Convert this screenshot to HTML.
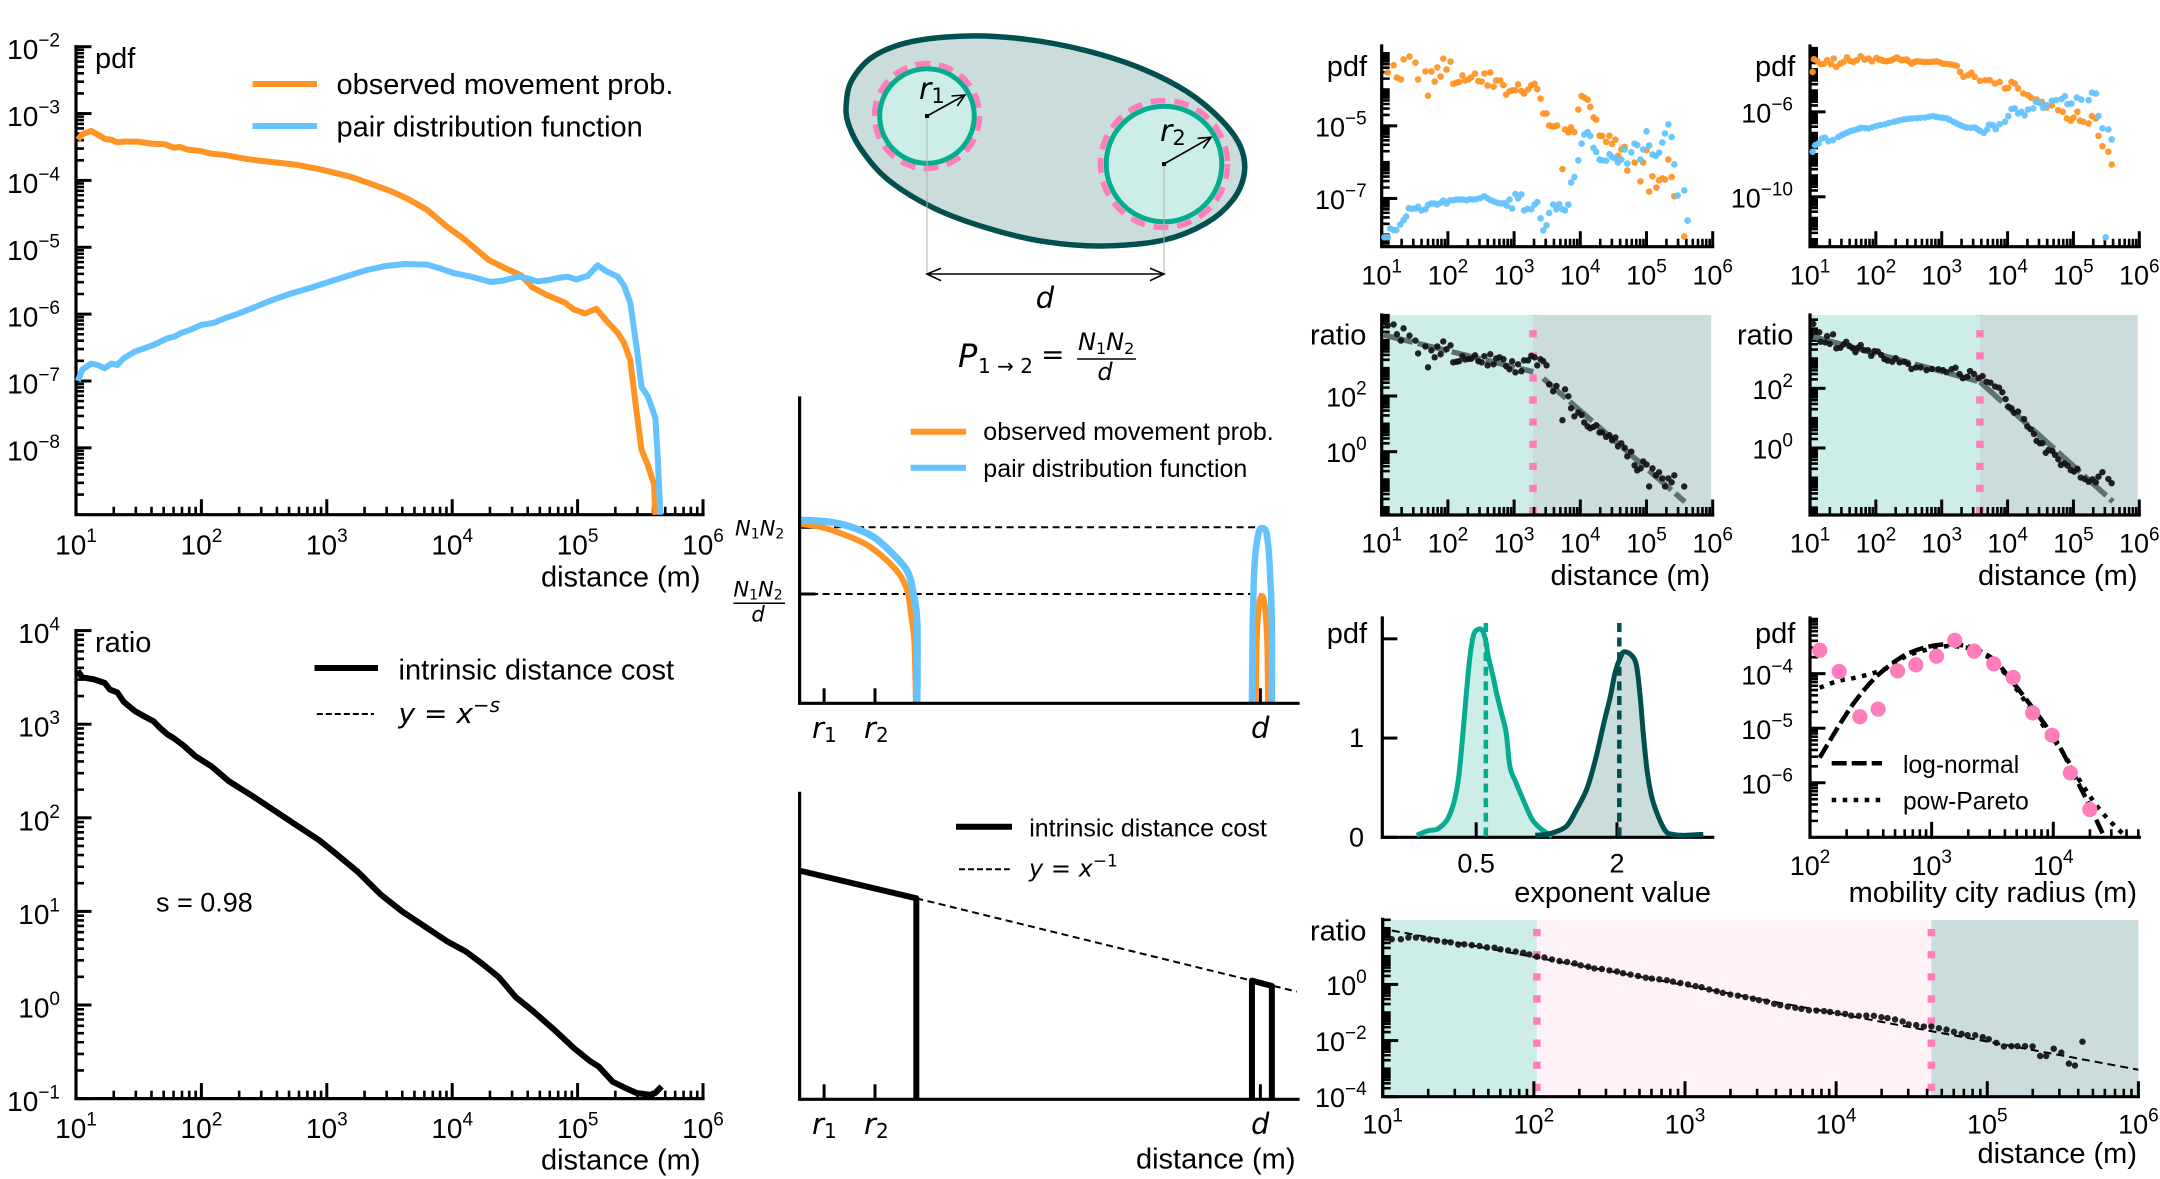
<!DOCTYPE html>
<html lang="en">
<head>
<meta charset="utf-8">
<title>Distance cost multi-panel figure</title>
<style>
html,body{margin:0;padding:0;background:#fff}
svg{display:block}
text{font-family:"Liberation Sans",sans-serif;fill:#000}
.math{font-family:"DejaVu Sans",sans-serif;font-style:italic}
.up{font-style:normal}
</style>
</head>
<body>
<svg id="figure" xmlns="http://www.w3.org/2000/svg" width="2160" height="1179" viewBox="0 0 2160 1179">
<rect x="0" y="0" width="2160" height="1179" fill="#fff"/>

<g id="panel-a"></g>
<g>
  <text x="95" y="68" font-size="29">pdf</text>
  <text x="700.5" y="586.5" font-size="29" text-anchor="end">distance (m)</text>
  <line x1="252.5" x2="317" y1="84" y2="84" stroke="#ff9425" stroke-width="6"/>
  <text x="336.5" y="94" font-size="29">observed movement prob.</text>
  <line x1="252.5" x2="317" y1="126" y2="126" stroke="#64c3ff" stroke-width="6"/>
  <text x="336.5" y="136.5" font-size="29">pair distribution function</text>
</g>

<g id="panel-d"></g>
<g>
  <text x="95" y="652" font-size="29">ratio</text>
  <text x="700.5" y="1169.5" font-size="29" text-anchor="end">distance (m)</text>
  <line x1="314.5" x2="378" y1="668" y2="668" stroke="#000" stroke-width="6"/>
  <text x="398.5" y="679.5" font-size="29">intrinsic distance cost</text>
  <line x1="316.8" x2="374" y1="714" y2="714" stroke="#000" stroke-width="2" stroke-dasharray="6 3"/>
  <text class="math" x="398.5" y="723" font-size="28">y<tspan class="up"> = </tspan>x<tspan dy="-11" font-size="20">−s</tspan></text>
  <text x="156" y="911.5" font-size="27">s = 0.98</text>
</g>

<g>
  <path id="city-blob" fill="#cbdcdc" stroke="#024f4f" stroke-width="5.5"/>
  <circle cx="927" cy="116" r="52.5" fill="none" stroke="#ff7dbb" stroke-width="5.5" stroke-dasharray="15 8.56"/>
  <circle cx="927" cy="116" r="47.3" fill="#cdeee8" stroke="#05ac90" stroke-width="5"/>
  <circle cx="1164" cy="164" r="63.5" fill="none" stroke="#ff7dbb" stroke-width="5.5" stroke-dasharray="15 8.8"/>
  <circle cx="1164" cy="164" r="57.8" fill="#cdeee8" stroke="#05ac90" stroke-width="5"/>
  <line x1="927" x2="927" y1="116" y2="274" stroke="#a9b4b4" stroke-width="1"/>
  <line x1="1164" x2="1164" y1="164" y2="274" stroke="#a9b4b4" stroke-width="1"/>
  <rect x="925" y="114" width="4" height="4" fill="#000"/>
  <rect x="1162" y="162" width="4" height="4" fill="#000"/>
  <path d="M927 116L965 95M951.5 96L965 95L957.3 106" fill="none" stroke="#000" stroke-width="1.6"/>
  <path d="M1164 164L1211 137.3M1197.6 138.3L1211 137.3L1203.3 148.3" fill="none" stroke="#000" stroke-width="1.6"/>
  <path d="M927 274L1164 274M941 268.3L927 274L941 280.7M1150 268.3L1164 274L1150 280.7" fill="none" stroke="#000" stroke-width="1.6"/>
  <text class="math" x="919" y="99" font-size="30">r<tspan class="up" dy="4" font-size="21">1</tspan></text>
  <text class="math" x="1160" y="141" font-size="30">r<tspan class="up" dy="4" font-size="21">2</tspan></text>
  <text class="math" x="1045" y="308" font-size="29" text-anchor="middle">d</text>
</g>

<g>
  <text class="math" x="958" y="367" font-size="32">P</text>
  <text class="math up" x="978" y="373" font-size="20">1 → 2</text>
  <text class="math up" x="1041" y="364" font-size="28">=</text>
  <text class="math" x="1078" y="350" font-size="24">N<tspan class="up" dy="4" font-size="16">1</tspan><tspan dy="-4">N</tspan><tspan class="up" dy="4" font-size="16">2</tspan></text>
  <line x1="1077" x2="1136" y1="359" y2="359" stroke="#000" stroke-width="1.6"/>
  <text class="math" x="1105" y="380" font-size="24" text-anchor="middle">d</text>
</g>

<g id="panel-j"></g>
<g>
  <line x1="910.6" x2="966" y1="431.7" y2="431.7" stroke="#ff9425" stroke-width="6"/>
  <text x="983.3" y="440" font-size="25">observed movement prob.</text>
  <line x1="910.6" x2="966" y1="467.7" y2="467.7" stroke="#64c3ff" stroke-width="6"/>
  <text x="983.3" y="477" font-size="25">pair distribution function</text>
  <text class="math" x="735" y="535.7" font-size="21">N<tspan class="up" dy="3" font-size="14">1</tspan><tspan dy="-3">N</tspan><tspan class="up" dy="3" font-size="14">2</tspan></text>
  <text class="math" x="733.4" y="596.7" font-size="21">N<tspan class="up" dy="3" font-size="14">1</tspan><tspan dy="-3">N</tspan><tspan class="up" dy="3" font-size="14">2</tspan></text>
  <line x1="733.4" x2="785" y1="603.3" y2="603.3" stroke="#000" stroke-width="1.5"/>
  <text class="math" x="758" y="621.7" font-size="21" text-anchor="middle">d</text>
  <text class="math" x="812" y="738" font-size="29">r<tspan class="up" dy="4" font-size="20">1</tspan></text>
  <text class="math" x="864" y="738" font-size="29">r<tspan class="up" dy="4" font-size="20">2</tspan></text>
  <text class="math" x="1251" y="738" font-size="29">d</text>
</g>

<g id="panel-k"></g>
<g>
  <line x1="956" x2="1012" y1="826.7" y2="826.7" stroke="#000" stroke-width="6"/>
  <text x="1029.2" y="836.7" font-size="25">intrinsic distance cost</text>
  <line x1="959" x2="1009.7" y1="869.3" y2="869.3" stroke="#000" stroke-width="2" stroke-dasharray="6 3"/>
  <text class="math" x="1029" y="876.7" font-size="24">y<tspan class="up"> = </tspan>x<tspan class="up" dy="-10" font-size="17">−1</tspan></text>
  <text class="math" x="812" y="1134" font-size="29">r<tspan class="up" dy="4" font-size="20">1</tspan></text>
  <text class="math" x="864" y="1134" font-size="29">r<tspan class="up" dy="4" font-size="20">2</tspan></text>
  <text class="math" x="1251" y="1134" font-size="29">d</text>
  <text x="1295.5" y="1168.5" font-size="29" text-anchor="end">distance (m)</text>
</g>

<g id="panel-b"></g>
<text x="1326.7" y="76" font-size="29">pdf</text>
<g id="panel-c"></g>
<text x="1755" y="76" font-size="29">pdf</text>

<g id="panel-e"></g>
<text x="1310" y="344.5" font-size="29">ratio</text>
<text x="1710" y="585" font-size="29" text-anchor="end">distance (m)</text>
<g id="panel-f"></g>
<text x="1737" y="344.5" font-size="29">ratio</text>
<text x="2137.5" y="585" font-size="29" text-anchor="end">distance (m)</text>

<g id="panel-g"></g>
<text x="1326.7" y="643" font-size="29">pdf</text>
<text x="1711" y="902" font-size="29" text-anchor="end">exponent value</text>

<g id="panel-h"></g>
<g>
  <text x="1755" y="643" font-size="29">pdf</text>
  <text x="2137" y="902" font-size="29" text-anchor="end">mobility city radius (m)</text>
  <line x1="1831.7" x2="1882" y1="763.3" y2="763.3" stroke="#000" stroke-width="4.5" stroke-dasharray="15 5"/>
  <text x="1903" y="773" font-size="24.6">log-normal</text>
  <line x1="1831.7" x2="1882" y1="800" y2="800" stroke="#000" stroke-width="4.5" stroke-dasharray="4.5 6.5"/>
  <text x="1903" y="809.5" font-size="24.6">pow-Pareto</text>
</g>

<g id="panel-i"></g>
<text x="1310" y="940.5" font-size="29">ratio</text>
<text x="2137" y="1163" font-size="29" text-anchor="end">distance (m)</text>
</svg>

<script>
// All distance / pdf / ratio values below are log10 of the plotted value.
const xDecadeLabels = [1, 2, 3, 4, 5, 6];

const panelAYTicks = [-8, -7, -6, -5, -4, -3, -2];
const panelALogDistanceObserved = [1.015,1.05,1.12,1.17,1.23,1.28,1.33,1.38,1.49,1.60,1.71,1.78,1.83,1.89,1.99,2.08,2.19,2.33,2.44,2.59,2.77,2.96,3.18,3.32,3.51,3.65,3.80,3.95,4.11,4.29,4.42,4.55,4.64,4.75,4.90,4.97,5.06,5.15,5.23,5.32,5.37,5.42,5.47,5.51,5.56,5.61,5.62];
const panelALogPdfObserved = [-3.39,-3.31,-3.26,-3.31,-3.38,-3.39,-3.43,-3.42,-3.42,-3.45,-3.46,-3.51,-3.50,-3.54,-3.56,-3.60,-3.62,-3.67,-3.70,-3.73,-3.77,-3.84,-3.94,-4.03,-4.16,-4.28,-4.44,-4.68,-4.90,-5.19,-5.31,-5.42,-5.60,-5.71,-5.83,-5.93,-5.99,-5.92,-6.10,-6.28,-6.43,-6.69,-7.46,-8.03,-8.26,-8.55,-9.0];
const panelALogDistancePair = [1.015,1.05,1.12,1.17,1.23,1.28,1.33,1.38,1.47,1.62,1.73,1.78,1.84,1.89,2.0,2.10,2.19,2.30,2.42,2.55,2.70,2.88,3.03,3.18,3.32,3.47,3.62,3.80,3.91,4.02,4.13,4.31,4.40,4.53,4.59,4.68,4.77,4.84,4.92,4.99,5.08,5.16,5.23,5.32,5.37,5.42,5.47,5.51,5.56,5.62,5.64,5.66];
const panelALogPdfPair = [-7.0,-6.83,-6.74,-6.76,-6.81,-6.74,-6.76,-6.66,-6.56,-6.46,-6.36,-6.34,-6.28,-6.25,-6.16,-6.13,-6.06,-5.99,-5.90,-5.80,-5.70,-5.60,-5.51,-5.42,-5.34,-5.28,-5.25,-5.26,-5.32,-5.39,-5.43,-5.52,-5.50,-5.44,-5.46,-5.51,-5.49,-5.46,-5.44,-5.48,-5.43,-5.27,-5.36,-5.44,-5.57,-5.83,-6.49,-7.09,-7.23,-7.55,-8.18,-9.0];

const panelDYTicks = [-1, 0, 1, 2, 3, 4];
const panelDLogDistance = [1.015,1.05,1.14,1.23,1.27,1.33,1.38,1.47,1.55,1.62,1.67,1.73,1.78,1.86,1.95,2.08,2.22,2.41,2.59,2.77,2.94,3.07,3.25,3.43,3.60,3.78,3.96,4.11,4.24,4.37,4.51,4.64,4.81,4.97,5.10,5.17,5.28,5.37,5.47,5.58,5.62,5.67];
const panelDLogRatio = [3.57,3.50,3.48,3.44,3.37,3.34,3.24,3.14,3.08,3.03,2.96,2.89,2.85,2.77,2.66,2.55,2.39,2.23,2.07,1.91,1.76,1.62,1.42,1.18,1.0,0.84,0.68,0.57,0.44,0.30,0.08,-0.06,-0.26,-0.46,-0.60,-0.66,-0.82,-0.88,-0.94,-0.96,-0.94,-0.87];

const panelBYTicks = [-7, -5];
const panelBLogDistanceObserved = [1.09,1.18,1.23,1.29,1.33,1.42,1.51,1.55,1.66,1.70,1.75,1.80,1.84,1.89,1.93,1.98,2.04,2.08,2.13,2.17,2.22,2.26,2.31,2.35,2.41,2.46,2.51,2.55,2.60,2.64,2.69,2.73,2.79,2.84,2.88,2.93,2.97,3.02,3.06,3.11,3.15,3.21,3.26,3.31,3.35,3.40,3.44,3.49,3.53,3.58,3.62,3.65,3.73,3.77,3.82,3.86,3.91,3.97,4.02,4.06,4.11,4.15,4.20,4.24,4.29,4.33,4.39,4.44,4.48,4.53,4.57,4.62,4.67,4.71,4.82,4.91,4.95,5.0,5.04,5.09,5.15,5.19,5.24,5.28,5.33,5.38,5.42,5.57];
const panelBLogPdfObserved = [-3.53,-3.33,-3.67,-3.72,-3.17,-3.09,-3.26,-3.72,-3.50,-4.17,-3.50,-3.78,-3.39,-3.64,-3.15,-3.45,-3.23,-3.84,-3.81,-3.79,-3.61,-3.75,-3.72,-3.67,-3.56,-3.77,-3.78,-3.56,-3.89,-3.53,-3.92,-3.75,-3.75,-3.88,-4.14,-4.05,-4.02,-4.02,-3.86,-4.04,-4.11,-4.0,-3.88,-3.84,-3.99,-4.25,-4.66,-4.66,-4.99,-5.02,-5.01,-4.99,-6.19,-5.10,-5.18,-5.04,-5.17,-4.55,-4.18,-4.22,-4.28,-4.48,-4.77,-4.83,-5.27,-5.28,-5.44,-5.27,-5.50,-5.38,-5.83,-5.65,-5.58,-6.23,-6.01,-6.53,-6.01,-5.67,-6.81,-6.39,-6.70,-6.50,-6.45,-6.48,-5.93,-6.41,-6.94,-8.05];
const panelBLogDistancePair = [1.04,1.09,1.13,1.18,1.22,1.28,1.33,1.37,1.41,1.46,1.51,1.55,1.60,1.66,1.70,1.75,1.80,1.84,1.89,1.93,1.98,2.03,2.08,2.13,2.18,2.23,2.28,2.33,2.38,2.43,2.49,2.55,2.60,2.65,2.70,2.75,2.80,2.85,2.89,2.93,2.97,3.02,3.06,3.11,3.15,3.20,3.26,3.31,3.35,3.40,3.44,3.49,3.53,3.59,3.64,3.68,3.73,3.77,3.82,3.86,3.91,3.97,4.02,4.06,4.11,4.15,4.20,4.24,4.29,4.33,4.39,4.44,4.48,4.53,4.57,4.62,4.67,4.71,4.77,4.82,4.86,4.91,4.95,5.0,5.04,5.09,5.14,5.19,5.24,5.28,5.33,5.38,5.42,5.47,5.57,5.62];
const panelBLogPdfPair = [-8.07,-8.07,-7.83,-7.87,-7.87,-7.72,-7.60,-7.50,-7.27,-7.29,-7.28,-7.23,-7.33,-7.30,-7.18,-7.14,-7.14,-7.17,-7.12,-7.06,-7.14,-7.05,-7.05,-7.03,-7.03,-7.03,-7.05,-7.02,-7.03,-7.02,-6.99,-6.94,-7.0,-7.05,-7.09,-7.12,-7.14,-7.13,-7.20,-7.03,-7.28,-6.88,-7.0,-6.89,-7.33,-7.29,-7.30,-7.17,-7.10,-7.55,-7.88,-7.74,-7.40,-7.17,-7.30,-7.16,-7.30,-7.33,-7.17,-6.56,-6.41,-5.95,-5.49,-5.24,-5.17,-5.28,-5.61,-5.72,-5.93,-5.95,-5.96,-5.78,-5.86,-5.90,-6.01,-5.93,-5.65,-6.04,-5.73,-5.49,-5.53,-5.93,-5.65,-5.15,-5.54,-5.79,-5.83,-5.74,-5.46,-5.21,-4.96,-5.31,-6.06,-6.92,-6.78,-7.61];

const panelCYTicks = [-10, -6];
const panelCLogDistanceObserved = [1.04,1.06,1.11,1.16,1.21,1.26,1.32,1.36,1.40,1.46,1.51,1.56,1.61,1.66,1.71,1.77,1.83,1.89,1.94,2.01,2.05,2.09,2.12,2.16,2.20,2.24,2.28,2.32,2.35,2.39,2.43,2.47,2.50,2.54,2.58,2.62,2.67,2.72,2.77,2.82,2.87,2.92,2.97,3.02,3.07,3.13,3.18,3.23,3.28,3.33,3.40,3.45,3.50,3.58,3.66,3.73,3.81,3.88,3.96,4.01,4.06,4.11,4.16,4.24,4.31,4.36,4.44,4.52,4.59,4.67,4.77,4.84,4.90,4.96,5.0,5.06,5.10,5.15,5.23,5.28,5.34,5.38,5.44,5.53,5.58];
const panelCLogPdfObserved = [-4.12,-3.52,-3.60,-3.76,-3.73,-3.57,-3.76,-3.49,-3.88,-3.73,-3.65,-3.44,-3.60,-3.65,-3.57,-3.38,-3.54,-3.49,-3.62,-3.46,-3.53,-3.57,-3.60,-3.62,-3.60,-3.57,-3.50,-3.44,-3.50,-3.57,-3.55,-3.54,-3.62,-3.73,-3.66,-3.62,-3.63,-3.65,-3.65,-3.65,-3.64,-3.62,-3.67,-3.73,-3.74,-3.76,-3.80,-3.84,-4.12,-4.35,-4.27,-4.16,-4.35,-4.54,-4.51,-4.51,-4.67,-4.59,-4.90,-4.87,-4.59,-4.67,-4.90,-5.14,-5.22,-5.34,-5.42,-5.53,-5.80,-5.69,-5.92,-6.0,-6.31,-6.42,-6.27,-6.0,-6.42,-6.47,-6.55,-6.20,-6.31,-7.13,-7.62,-7.88,-8.48];
const panelCLogDistancePair = [1.04,1.08,1.13,1.18,1.23,1.28,1.35,1.43,1.48,1.51,1.56,1.61,1.66,1.71,1.75,1.78,1.84,1.89,1.95,2.01,2.07,2.14,2.20,2.27,2.32,2.37,2.43,2.49,2.55,2.62,2.68,2.75,2.81,2.87,2.92,2.97,3.02,3.07,3.12,3.18,3.23,3.28,3.33,3.38,3.44,3.50,3.54,3.58,3.64,3.69,3.72,3.78,3.82,3.88,3.96,4.01,4.06,4.11,4.16,4.21,4.26,4.31,4.39,4.43,4.49,4.54,4.59,4.67,4.74,4.82,4.87,4.91,4.97,5.05,5.12,5.23,5.28,5.34,5.38,5.44,5.49,5.53,5.58];
const panelCLogPdfPair = [-7.88,-7.57,-7.49,-7.25,-7.22,-7.38,-7.33,-7.18,-7.10,-7.05,-6.98,-6.91,-6.87,-6.83,-6.78,-6.75,-6.77,-6.78,-6.72,-6.67,-6.62,-6.58,-6.52,-6.47,-6.43,-6.39,-6.35,-6.33,-6.31,-6.30,-6.28,-6.27,-6.23,-6.20,-6.24,-6.27,-6.28,-6.30,-6.37,-6.47,-6.55,-6.63,-6.69,-6.74,-6.75,-6.74,-6.81,-6.89,-6.99,-6.83,-6.60,-6.63,-6.82,-6.58,-6.47,-6.20,-5.87,-5.84,-6.08,-6.0,-6.16,-5.89,-5.84,-5.53,-5.58,-5.81,-5.69,-5.48,-5.45,-5.40,-5.26,-5.64,-5.61,-5.33,-5.42,-5.45,-5.09,-5.14,-6.19,-6.78,-11.91,-6.83,-7.30];

const panelEYTicks = [0, 2];
const panelEBreakpoint = [3.286];
const panelELogDistance = [1.09,1.18,1.23,1.29,1.33,1.42,1.51,1.55,1.66,1.70,1.75,1.80,1.84,1.89,1.93,1.98,2.04,2.08,2.13,2.17,2.22,2.26,2.31,2.35,2.41,2.46,2.51,2.55,2.60,2.64,2.69,2.73,2.78,2.84,2.88,2.93,2.97,3.02,3.06,3.11,3.15,3.21,3.26,3.31,3.35,3.40,3.44,3.49,3.53,3.59,3.64,3.73,3.77,3.82,3.86,3.91,3.97,4.02,4.06,4.11,4.15,4.20,4.24,4.29,4.33,4.39,4.44,4.48,4.53,4.57,4.62,4.67,4.71,4.77,4.82,4.86,4.91,4.95,5.0,5.04,5.09,5.14,5.19,5.24,5.28,5.33,5.38,5.42,5.57];
const panelELogRatio = [4.53,4.57,4.22,3.99,4.43,4.17,3.99,3.53,3.78,3.03,3.64,3.39,3.78,3.50,3.96,3.68,3.82,3.21,3.23,3.25,3.43,3.31,3.33,3.34,3.46,3.25,3.21,3.43,3.10,3.50,3.14,3.35,3.39,3.32,3.07,2.96,3.25,2.85,3.14,2.89,3.28,3.28,3.44,3.39,3.10,3.32,3.25,3.10,2.42,2.17,2.36,1.13,2.24,1.99,1.56,1.27,1.41,1.32,1.05,0.91,0.84,0.89,0.95,0.69,0.69,0.53,0.59,0.41,0.51,0.19,0.30,0.14,-0.17,0,-0.49,-0.67,-0.60,-0.35,-0.46,-1.25,-0.60,-0.85,-0.74,-0.96,-1.25,-0.96,-1.10,-0.85,-1.25];
const panelEFitLogDistance = [1.03, 3.29, 3.44, 5.58];
const panelEFitLogRatio = [4.19, 2.87, 2.63, -1.80];

const panelFYTicks = [0, 2];
const panelFBreakpoint = [3.58];
const panelFLogDistance = [1.05,1.08,1.14,1.16,1.23,1.26,1.30,1.35,1.40,1.46,1.51,1.55,1.60,1.65,1.69,1.73,1.77,1.82,1.88,1.93,1.98,2.03,2.08,2.13,2.18,2.25,2.30,2.36,2.43,2.49,2.54,2.61,2.68,2.77,2.85,2.95,3.02,3.07,3.15,3.21,3.27,3.32,3.39,3.43,3.49,3.56,3.62,3.68,3.74,3.81,3.87,3.92,3.97,4.01,4.06,4.10,4.16,4.25,4.30,4.35,4.40,4.44,4.49,4.53,4.58,4.62,4.68,4.72,4.77,4.81,4.86,4.91,4.96,5.01,5.06,5.11,5.17,5.23,5.29,5.34,5.38,5.44,5.53,5.58];
const panelFLogRatio = [4.16,3.90,3.88,3.56,3.54,3.75,3.49,3.81,3.34,3.36,3.47,3.56,3.42,3.34,3.21,3.36,3.45,3.28,3.28,3.09,3.25,3.23,3.12,2.98,2.93,2.89,3.01,2.87,2.89,2.82,2.65,2.70,2.70,2.61,2.65,2.64,2.61,2.54,2.64,2.69,2.48,2.34,2.39,2.58,2.48,2.34,2.41,2.22,2.19,2.06,2.02,1.87,1.64,1.39,1.33,1.18,1.22,0.97,0.72,0.63,0.47,0.24,0.16,0.16,-0.16,-0.07,-0.10,-0.23,-0.38,-0.57,-0.51,-0.59,-0.74,-0.79,-0.70,-0.99,-1.04,-1.13,-1.05,-1.15,-0.96,-0.81,-1.04,-1.18];
const panelFFitLogDistance = [1.05, 3.58, 3.58, 5.60];
const panelFFitLogRatio = [3.73, 2.22, 2.22, -1.80];

const exponentTickValues = [0.5, 2];
const exponentTickLabels = ['0.5', '2'];
const densityTickValues = [0, 1, 2];
const densityTickLabels = ['0', '1', ''];
const exponentMeans = [0.603, 2.025];
const shortExponentValues = [-0.133,-0.06,0.01,0.08,0.15,0.2,0.26,0.31,0.35,0.39,0.43,0.47,0.51,0.56,0.6,0.63,0.68,0.72,0.77,0.82,0.86,0.92,1.0,1.09,1.16,1.24,1.31];
const shortExponentDensity = [0.02,0.05,0.07,0.08,0.13,0.19,0.34,0.58,0.95,1.39,1.79,2.03,2.09,2.09,1.99,1.82,1.62,1.44,1.25,1.05,0.71,0.56,0.38,0.19,0.11,0.05,0.01];
const longExponentValues = [1.13,1.25,1.36,1.47,1.57,1.68,1.77,1.86,1.93,1.98,2.04,2.08,2.16,2.21,2.25,2.28,2.32,2.37,2.44,2.52,2.59,2.71,2.92];
const longExponentDensity = [0.02,0.03,0.06,0.12,0.28,0.49,0.78,1.15,1.42,1.66,1.82,1.87,1.83,1.72,1.39,1.05,0.68,0.41,0.21,0.06,0.03,0.02,0.03];

const panelHXTicks = [2, 3, 4];
const panelHYTicks = [-6, -5, -4];
const cityLogRadius = [2.08,2.24,2.41,2.56,2.72,2.87,3.04,3.19,3.35,3.51,3.67,3.83,3.99,4.14,4.30];
const cityLogPdf = [-3.57,-3.96,-4.79,-4.65,-3.95,-3.84,-3.68,-3.39,-3.59,-3.82,-4.07,-4.72,-5.13,-5.82,-6.49];
const logNormalLogRadius = [2.08,2.16,2.27,2.38,2.52,2.66,2.79,2.93,3.07,3.21,3.34,3.51,3.64,3.78,3.92,4.05,4.19,4.30,4.41];
const logNormalLogPdf = [-5.54,-5.24,-4.84,-4.48,-4.11,-3.84,-3.65,-3.53,-3.47,-3.47,-3.53,-3.74,-4.08,-4.48,-4.90,-5.33,-5.94,-6.43,-6.95];
const paretoLogRadius = [2.08,2.22,2.36,2.52,2.66,2.79,2.96,3.10,3.21,3.34,3.51,3.64,3.78,3.92,4.08,4.22,4.36,4.49,4.58];
const paretoLogPdf = [-4.26,-4.14,-4.08,-3.99,-3.87,-3.68,-3.56,-3.50,-3.50,-3.56,-3.77,-4.11,-4.54,-4.96,-5.45,-5.97,-6.43,-6.76,-6.95];

const panelIYTicks = [-4, -2, 0];
const panelIBreakpoints = [2.02, 4.63];
const panelILogDistance = [1.06,1.12,1.17,1.22,1.27,1.31,1.36,1.41,1.45,1.50,1.54,1.59,1.64,1.69,1.74,1.78,1.83,1.88,1.93,1.97,2.02,2.07,2.12,2.17,2.22,2.27,2.31,2.36,2.40,2.45,2.50,2.55,2.59,2.64,2.69,2.74,2.78,2.83,2.88,2.92,2.97,3.02,3.07,3.11,3.16,3.21,3.25,3.30,3.35,3.40,3.45,3.49,3.54,3.59,3.63,3.68,3.73,3.77,3.82,3.87,3.92,3.96,4.01,4.06,4.10,4.15,4.20,4.25,4.30,4.34,4.39,4.44,4.48,4.53,4.58,4.63,4.68,4.73,4.78,4.83,4.87,4.92,4.97,5.01,5.06,5.11,5.16,5.20,5.25,5.30,5.35,5.39,5.44,5.49,5.54,5.58,5.63];
const panelILogRatio = [1.61,1.61,1.67,1.67,1.64,1.60,1.56,1.52,1.50,1.42,1.43,1.40,1.37,1.32,1.31,1.25,1.21,1.17,1.13,1.07,0.99,0.96,0.89,0.83,0.80,0.75,0.68,0.63,0.57,0.55,0.50,0.46,0.40,0.35,0.30,0.24,0.21,0.18,0.15,0.10,0.05,0,-0.06,-0.10,-0.18,-0.24,-0.30,-0.36,-0.40,-0.45,-0.51,-0.56,-0.61,-0.69,-0.74,-0.79,-0.83,-0.87,-0.92,-0.93,-0.95,-0.98,-1.02,-1.05,-1.11,-1.12,-1.11,-1.12,-1.17,-1.20,-1.25,-1.32,-1.42,-1.45,-1.50,-1.50,-1.56,-1.61,-1.69,-1.76,-1.81,-1.81,-1.88,-1.95,-2.08,-2.21,-2.20,-2.20,-2.20,-2.21,-2.55,-2.55,-2.29,-2.43,-2.82,-2.89,-2.04];
const panelIFitLogDistance = [1.06, 6];
const panelIFitLogRatio = [1.92, -3.04];

// Schematic panels: arbitrary units along distance and height.
const schematicXTicks = [64, 197, 1204];
const schematicYTicks = [328, 528];
const observedNearDistance = [0,52,112,172,222,262,282,292,300,304];
const observedNearHeight = [538,530,508,478,435,385,335,260,180,0];
const pairNearDistance = [0,72,132,192,242,282,297,307,307];
const pairNearHeight = [550,545,530,500,450,395,330,240,0];
const pairFarDistance = [1182,1184,1189,1199,1209,1220,1228,1234,1234];
const pairFarHeight = [0,240,420,510,525,510,420,240,0];
const observedFarDistance = [1192,1194,1200,1208,1216,1222,1224];
const observedFarHeight = [0,180,290,322,290,180,0];
const costNearDistance = [0,305,305];
const costNearHeight = [686,603,0];
const costFarDistance = [1182,1182,1234,1234];
const costFarHeight = [0,356,340,0];
const powerLawDistance = [305,1299];
const powerLawHeight = [603,323];

const ORANGE = '#ff9425', BLUE = '#64c3ff', TEAL = '#05ac90', DARK = '#024f4f', PINK = '#ff7dbb';
const FILL_TEAL = '#cdeee8', FILL_GREY = '#cbdcdc', FILL_PINK = '#fef1f8';
const NS = 'http://www.w3.org/2000/svg';

function mk(tag, parent) {
  const el = document.createElementNS(NS, tag);
  parent.appendChild(el);
  return el;
}
function linearScale(d0, d1, r0, r1) {
  return v => r0 + (v - d0) / (d1 - d0) * (r1 - r0);
}
function zipPoints(xs, ys, sx, sy) {
  return xs.map((v, i) => [sx(v), sy(ys[i])]);
}
function polyPath(pts) {
  return 'M' + pts.map(p => p[0].toFixed(2) + ' ' + p[1].toFixed(2)).join('L');
}
function smoothPath(pts) {
  let d = 'M' + pts[0][0].toFixed(2) + ' ' + pts[0][1].toFixed(2);
  const n = pts.length;
  for (let i = 0; i < n - 1; i++) {
    const p0 = pts[Math.max(i - 1, 0)], p1 = pts[i], p2 = pts[i + 1], p3 = pts[Math.min(i + 2, n - 1)];
    d += 'C' + (p1[0] + (p2[0] - p0[0]) / 6).toFixed(2) + ' ' + (p1[1] + (p2[1] - p0[1]) / 6).toFixed(2) + ' ' +
      (p2[0] - (p3[0] - p1[0]) / 6).toFixed(2) + ' ' + (p2[1] - (p3[1] - p1[1]) / 6).toFixed(2) + ' ' +
      p2[0].toFixed(2) + ' ' + p2[1].toFixed(2);
  }
  return d;
}
function addPath(parent, d, name, color, width, dash) {
  const el = mk('path', parent);
  el.setAttribute('d', d);
  el.setAttribute('fill', 'none');
  el.setAttribute('stroke', color);
  el.setAttribute('stroke-width', width);
  el.setAttribute('stroke-linejoin', 'round');
  if (dash) el.setAttribute('stroke-dasharray', dash);
  
  
  return el;
}
function addDots(parent, xs, ys, sx, sy, name, color, r, opacity) {
  xs.forEach((v, i) => {
    const el = mk('circle', parent);
    el.setAttribute('cx', sx(v).toFixed(2));
    el.setAttribute('cy', sy(ys[i]).toFixed(2));
    el.setAttribute('r', r);
    el.setAttribute('fill', color);
    el.setAttribute('fill-opacity', opacity);
    
    
  });
}
function addSpines(g, box, width) {
  const el = mk('path', g);
  el.setAttribute('d', `M${box.l} ${box.t}L${box.l} ${box.b}L${box.r} ${box.b}`);
  el.setAttribute('fill', 'none');
  el.setAttribute('stroke', '#000');
  el.setAttribute('stroke-width', width);
  el.setAttribute('stroke-linecap', 'square');
  
  
}
function addMajorTick(g, x1, y1, x2, y2, name) {
  const el = mk('line', g);
  el.setAttribute('x1', x1);
  el.setAttribute('y1', y1);
  el.setAttribute('x2', x2);
  el.setAttribute('y2', y2);
  el.setAttribute('stroke', '#000');
  el.setAttribute('stroke-width', 3);
  
  
}
function addPowerLabel(g, x, y, anchor, exp, size, supSize, raise, name) {
  const el = mk('text', g);
  el.setAttribute('x', x);
  el.setAttribute('y', y);
  el.setAttribute('text-anchor', anchor);
  el.setAttribute('font-size', size);
  
  
  el.textContent = '10';
  const sup = mk('tspan', el);
  sup.setAttribute('dy', -raise);
  sup.setAttribute('font-size', supSize);
  sup.textContent = exp < 0 ? '\u2212' + (-exp) : String(exp);
}
function logMinorPath(domain, majors, toTick) {
  let d = '';
  for (let k = Math.floor(domain[0]); k <= Math.ceil(domain[1]); k++) {
    for (let m = 1; m <= 9; m++) {
      const v = k + Math.log10(m);
      if (v < domain[0] - 1e-6 || v > domain[1] + 1e-6) continue;
      if (m === 1 && majors.indexOf(k) >= 0) continue;
      d += toTick(v);
    }
  }
  return d;
}
function addMinorTicks(g, d, name) {
  const el = mk('path', g);
  el.setAttribute('d', d);
  el.setAttribute('stroke', '#000');
  el.setAttribute('stroke-width', 2.6);
  el.setAttribute('fill', 'none');
  
  
}
function logAxes(g, box, xDomain, yDomain, xTicks, yTicks, opt) {
  const sx = linearScale(xDomain[0], xDomain[1], box.l, box.r);
  const sy = linearScale(yDomain[0], yDomain[1], box.b, box.t);
  const major = 15.5, minor = 8;
  addMinorTicks(g, logMinorPath(xDomain, xTicks, v => `M${sx(v).toFixed(2)} ${box.b}V${box.b - minor}`), 'x-minor-ticks');
  addMinorTicks(g, logMinorPath(yDomain, yTicks, v => `M${box.l} ${sy(v).toFixed(2)}H${box.l + minor}`), 'y-minor-ticks');
  xTicks.forEach(k => {
    addMajorTick(g, sx(k), box.b, sx(k), box.b - major, 'x-major-tick');
    addPowerLabel(g, sx(k), opt.xLabelY, 'middle', k, opt.size, opt.sup, opt.raise, 'x-tick-label');
  });
  yTicks.forEach(k => {
    addMajorTick(g, box.l, sy(k), box.l + major, sy(k), 'y-major-tick');
    addPowerLabel(g, opt.yLabelRight, sy(k) + opt.yLabelDy, 'end', k, opt.size, opt.sup, opt.raise, 'y-tick-label');
  });
  addSpines(g, box, 3.2);
  return { x: sx, y: sy };
}
function addRegion(g, x0, x1, y0, y1, color, name) {
  const el = mk('rect', g);
  el.setAttribute('x', x0);
  el.setAttribute('y', y0);
  el.setAttribute('width', x1 - x0);
  el.setAttribute('height', y1 - y0);
  el.setAttribute('fill', color);
  
  
}
function addBreakLine(g, x, y0, y1, offset) {
  const el = mk('line', g);
  el.setAttribute('x1', x);
  el.setAttribute('x2', x);
  el.setAttribute('y1', y0);
  el.setAttribute('y2', y1);
  el.setAttribute('stroke', PINK);
  el.setAttribute('stroke-width', 7.5);
  el.setAttribute('stroke-dasharray', '7.3 14.8');
  el.setAttribute('stroke-dashoffset', offset);
  
  
}

const leftOpt = { xLabelY: 554.5, yLabelRight: 60, yLabelDy: 12.5, size: 28, sup: 19, raise: 12.5 };
const topOpt = { xLabelY: 284.5, yLabelRight: 1366.7, yLabelDy: 10.5, size: 27, sup: 19, raise: 12 };

// Panel A
(function () {
  const g = document.getElementById('panel-a');
  const box = { l: 76, r: 703, t: 46.7, b: 514.7 };
  const a = logAxes(g, box, [1, 6], [-9, -2], xDecadeLabels, panelAYTicks, leftOpt);
  addPath(g, polyPath(zipPoints(panelALogDistanceObserved, panelALogPdfObserved, a.x, a.y)), 'observed-movement-line', ORANGE, 6);
  addPath(g, polyPath(zipPoints(panelALogDistancePair, panelALogPdfPair, a.x, a.y)), 'pair-distribution-line', BLUE, 6);
})();

// Panel D
(function () {
  const g = document.getElementById('panel-d');
  const box = { l: 76, r: 703, t: 630.6, b: 1098.6 };
  const a = logAxes(g, box, [1, 6], [-1, 4], xDecadeLabels, panelDYTicks, Object.assign({}, leftOpt, { xLabelY: 1138 }));
  addPath(g, polyPath(zipPoints(panelDLogDistance, panelDLogRatio, a.x, a.y)), 'intrinsic-cost-line', '#000', 6);
})();

// Panel B
(function () {
  const g = document.getElementById('panel-b');
  const box = { l: 1381.7, r: 1712.7, t: 46, b: 246.7 };
  const a = logAxes(g, box, [1, 6], [-8.33, -2.8], xDecadeLabels, panelBYTicks, topOpt);
  addDots(g, panelBLogDistanceObserved, panelBLogPdfObserved, a.x, a.y, 'observed-point', ORANGE, 3.3, 0.95);
  addDots(g, panelBLogDistancePair, panelBLogPdfPair, a.x, a.y, 'pair-point', BLUE, 3.3, 0.95);
})();

// Panel C
(function () {
  const g = document.getElementById('panel-c');
  const box = { l: 1810, r: 2139.3, t: 46, b: 246.7 };
  const a = logAxes(g, box, [1, 6], [-12.35, -2.9], xDecadeLabels, panelCYTicks, Object.assign({}, topOpt, { yLabelRight: 1793 }));
  addDots(g, panelCLogDistanceObserved, panelCLogPdfObserved, a.x, a.y, 'observed-point', ORANGE, 3.3, 0.95);
  addDots(g, panelCLogDistancePair, panelCLogPdfPair, a.x, a.y, 'pair-point', BLUE, 3.3, 0.95);
})();

function ratioPanel(id, box, yDomain, yTicks, breakpoint, xs, ys, fitX, fitY, opt) {
  const g = document.getElementById(id);
  const sx0 = linearScale(1, 6, box.l, box.r);
  addRegion(g, box.l, sx0(breakpoint[0]), box.t, box.b - 1, FILL_TEAL, 'short-range-region');
  addRegion(g, sx0(breakpoint[0]), box.r - 1.5, box.t, box.b - 1, FILL_GREY, 'long-range-region');
  addBreakLine(g, sx0(breakpoint[0]), box.t, box.b - 1, 7);
  const a = logAxes(g, box, [1, 6], yDomain, xDecadeLabels, yTicks, opt);
  const left = zipPoints(fitX.slice(0, 2), fitY.slice(0, 2), a.x, a.y);
  const right = zipPoints(fitX.slice(2), fitY.slice(2), a.x, a.y);
  addPath(g, polyPath(left), 'short-range-fit-line', '#5d7272', 5.5, '30 5');
  addPath(g, polyPath(right), 'long-range-fit-line', '#5d7272', 5.5, '30 5');
  addDots(g, xs, ys, a.x, a.y, 'ratio-point', '#111', 3.2, 0.92);
}
ratioPanel('panel-e', { l: 1381.7, r: 1712.7, t: 315, b: 515 }, [-2.275, 4.91], panelEYTicks, panelEBreakpoint, panelELogDistance, panelELogRatio, panelEFitLogDistance, panelEFitLogRatio, Object.assign({}, topOpt, { xLabelY: 552.7 }));
ratioPanel('panel-f', { l: 1810, r: 2139.3, t: 315, b: 515 }, [-2.246, 4.458], panelFYTicks, panelFBreakpoint, panelFLogDistance, panelFLogRatio, panelFFitLogDistance, panelFFitLogRatio, Object.assign({}, topOpt, { xLabelY: 552.7, yLabelRight: 1793 }));

// Panel G
(function () {
  const g = document.getElementById('panel-g');
  const box = { l: 1382.3, r: 1712.7, t: 618, b: 837.3 };
  const sx = linearScale(-0.5, 3.02, box.l, box.r);
  const sy = linearScale(0, 2.21, box.b, box.t);
  const shortPts = zipPoints(shortExponentValues, shortExponentDensity, sx, sy);
  const longPts = zipPoints(longExponentValues, longExponentDensity, sx, sy);
  const closeFill = (pts) => smoothPath(pts) + `L${pts[pts.length - 1][0]} ${sy(0)}L${pts[0][0]} ${sy(0)}Z`;
  const fillA = mk('path', g);
  fillA.setAttribute('d', closeFill(shortPts));
  fillA.setAttribute('fill', FILL_TEAL);
  
  
  const fillB = mk('path', g);
  fillB.setAttribute('d', closeFill(longPts));
  fillB.setAttribute('fill', FILL_GREY);
  
  
  exponentTickValues.forEach((v, i) => {
    addMajorTick(g, sx(v), box.b, sx(v), box.b - 15, 'x-major-tick');
    const el = mk('text', g);
    el.setAttribute('x', sx(v));
    el.setAttribute('y', 872.5);
    el.setAttribute('font-size', 27);
    el.setAttribute('text-anchor', 'middle');
    
    
    el.textContent = exponentTickLabels[i];
  });
  densityTickValues.forEach((v, i) => {
    addMajorTick(g, box.l, sy(v), box.l + 15, sy(v), 'y-major-tick');
    if (!densityTickLabels[i]) return;
    const el = mk('text', g);
    el.setAttribute('x', 1364);
    el.setAttribute('y', sy(v) + 9);
    el.setAttribute('font-size', 27);
    el.setAttribute('text-anchor', 'end');
    
    
    el.textContent = densityTickLabels[i];
  });
  addSpines(g, box, 3.2);
  addPath(g, smoothPath(shortPts), 'short-exponent-density-line', TEAL, 5);
  addPath(g, smoothPath(longPts), 'long-exponent-density-line', DARK, 5);
  addPath(g, `M${sx(exponentMeans[0])} ${sy(2.16)}L${sx(exponentMeans[0])} ${sy(0)}`, 'short-exponent-mean-line', TEAL, 4.5, '9 5.6');
  addPath(g, `M${sx(exponentMeans[1])} ${sy(2.16)}L${sx(exponentMeans[1])} ${sy(0)}`, 'long-exponent-mean-line', DARK, 4.5, '9 5.6');
})();

// Panel H
(function () {
  const g = document.getElementById('panel-h');
  const box = { l: 1810, r: 2139.3, t: 618, b: 837.3 };
  const a = logAxes(g, box, [2, 4.707], [-7, -2.98], panelHXTicks, panelHYTicks, Object.assign({}, topOpt, { xLabelY: 875, yLabelRight: 1793, yLabelDy: 11 }));
  addPath(g, smoothPath(zipPoints(paretoLogRadius, paretoLogPdf, a.x, a.y)), 'pow-pareto-fit-line', '#000', 4.5, '4.5 6.5');
  addPath(g, smoothPath(zipPoints(logNormalLogRadius, logNormalLogPdf, a.x, a.y)), 'log-normal-fit-line', '#000', 4.5, '15 5');
  addDots(g, cityLogRadius, cityLogPdf, a.x, a.y, 'city-radius-point', PINK, 7.6, 1);
})();

// Panel I
(function () {
  const g = document.getElementById('panel-i');
  const box = { l: 1382.7, r: 2138.4, t: 919.3, b: 1096.7 };
  const sx0 = linearScale(1, 6, box.l, box.r);
  const b0 = sx0(panelIBreakpoints[0]), b1 = sx0(panelIBreakpoints[1]);
  addRegion(g, box.l, b0, 920, 1095, FILL_TEAL, 'short-range-region');
  addRegion(g, b0, b1, 920, 1095, FILL_PINK, 'mid-range-region');
  addRegion(g, b1, box.r, 920, 1095, FILL_GREY, 'long-range-region');
  addBreakLine(g, b0, 920, 1095, 13.1);
  addBreakLine(g, b1, 920, 1095, 13.1);
  const a = logAxes(g, box, [1, 6], [-4, 2.32], xDecadeLabels, panelIYTicks, Object.assign({}, topOpt, { xLabelY: 1133.5 }));
  addPath(g, polyPath(zipPoints(panelIFitLogDistance, panelIFitLogRatio, a.x, a.y)), 'power-law-fit-line', '#000', 2, '8 5');
  addDots(g, panelILogDistance, panelILogRatio, a.x, a.y, 'ratio-point', '#111', 3.2, 0.92);
})();

// Schematic panels
const schematicX = v => 799.6 + v / 2.613;
function schematicTicks(g, box, sx) {
  schematicXTicks.forEach(v => {
    addMajorTick(g, sx(v), box.b, sx(v), box.b - 15, 'x-major-tick');
  });
}
(function () {
  const g = document.getElementById('panel-j');
  const box = { l: 799.6, r: 1298, t: 398, b: 703.3 };
  const sy = v => 703.3 - v / 3;
  schematicTicks(g, box, schematicX);
  schematicYTicks.forEach(v => {
    addMajorTick(g, box.l, sy(v), box.l + 16, sy(v), 'y-major-tick');
    addPath(g, `M${box.l} ${sy(v)}L${schematicX(1204)} ${sy(v)}`, 'reference-level-line', '#000', 2, '7 4.5');
  });
  addPath(g, smoothPath(zipPoints(observedNearDistance, observedNearHeight, schematicX, sy)), 'observed-near-curve', ORANGE, 6);
  addPath(g, smoothPath(zipPoints(observedFarDistance, observedFarHeight, schematicX, sy)), 'observed-far-curve', ORANGE, 6);
  addPath(g, smoothPath(zipPoints(pairNearDistance, pairNearHeight, schematicX, sy)), 'pair-near-curve', BLUE, 7);
  addPath(g, smoothPath(zipPoints(pairFarDistance, pairFarHeight, schematicX, sy)), 'pair-far-curve', BLUE, 6.5);
  addSpines(g, box, 3.2);
})();
(function () {
  const g = document.getElementById('panel-k');
  const box = { l: 799.6, r: 1298, t: 793.3, b: 1099.3 };
  const sy = v => 1099.3 - v / 3;
  schematicTicks(g, box, schematicX);
  addPath(g, polyPath(zipPoints(powerLawDistance, powerLawHeight, schematicX, sy)), 'power-law-line', '#000', 2, '7 4.5');
  addPath(g, polyPath(zipPoints(costNearDistance, costNearHeight, schematicX, sy)), 'cost-near-curve', '#000', 6);
  addPath(g, polyPath(zipPoints(costFarDistance, costFarHeight, schematicX, sy)), 'cost-far-curve', '#000', 6);
  addSpines(g, box, 3.2);
})();

// Diagram outline
(function () {
  const blob = [[846.3,103.3],[852,80],[873,56.7],[911.4,41.7],[968.8,36],[1026,39.3],[1083.6,50],[1141,68.3],[1187,91.7],[1221.3,120],[1240.5,146.7],[1244.3,173.3],[1232.8,200],[1206,223.3],[1164,240],[1102.7,246],[1045.3,241.7],[988,228.3],[934.3,208.3],[888.4,180],[861.6,150],[848.2,123.3]];
  const n = blob.length;
  let d = 'M' + blob[0].join(' ');
  for (let i = 0; i < n; i++) {
    const p0 = blob[(i - 1 + n) % n], p1 = blob[i], p2 = blob[(i + 1) % n], p3 = blob[(i + 2) % n];
    d += 'C' + (p1[0] + (p2[0] - p0[0]) / 6).toFixed(1) + ' ' + (p1[1] + (p2[1] - p0[1]) / 6).toFixed(1) + ' ' +
      (p2[0] - (p3[0] - p1[0]) / 6).toFixed(1) + ' ' + (p2[1] - (p3[1] - p1[1]) / 6).toFixed(1) + ' ' + p2[0] + ' ' + p2[1];
  }
  document.getElementById('city-blob').setAttribute('d', d + 'Z');
})();
</script>
</body>
</html>
